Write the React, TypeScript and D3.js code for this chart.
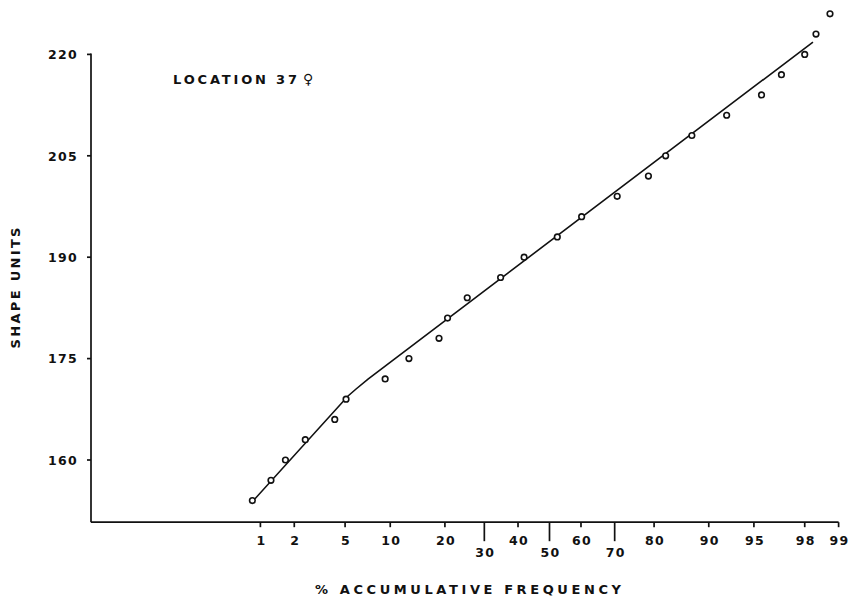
import React from "react";
import * as d3 from "d3";

// ---- data ----
const cumulativePct = [0.84, 1.25, 1.68, 2.47, 4.2, 5.08, 9.3, 12.9, 18.7, 20.6, 25.4, 34.7, 41.9, 52.5, 60.2, 70.7, 78.7, 82.5, 87.4, 92.3, 95.6, 96.9, 98.0, 98.4, 98.8];
const shapeUnits = [154, 157, 160, 163, 166, 169, 172, 175, 178, 181, 184, 187, 190, 193, 196, 199, 202, 205, 208, 211, 214, 217, 220, 223, 226];
// fitted (broken) line vertices: [pct, shape units]
const fitPct = [0.84, 5.25, 5.98, 7.21, 98.3];
const fitUnits = [153.83, 169.47, 170.5, 171.98, 221.83];
const xTickValues = [1, 2, 5, 10, 20, 30, 40, 50, 60, 70, 80, 90, 95, 98, 99];
const xTickLowered = [30, 50, 70];
const yTickValues = [160, 175, 190, 205, 220];

// inverse normal CDF (Acklam)
function probit(p: number): number {
  const a = [-3.969683028665376e1, 2.209460984245205e2, -2.759285104469687e2, 1.38357751867269e2, -3.066479806614716e1, 2.506628277459239];
  const b = [-5.447609879822406e1, 1.615858368580409e2, -1.556989798598866e2, 6.680131188771972e1, -1.328068155288572e1];
  const c = [-7.784894002430293e-3, -3.223964580411365e-1, -2.400758277161838, -2.549732539343734, 4.374664141464968, 2.938163982698783];
  const d = [7.784695709041462e-3, 3.224671290700398e-1, 2.445134137142996, 3.754408661907416];
  const pl = 0.02425;
  let q: number, r: number;
  if (p < pl) {
    q = Math.sqrt(-2 * Math.log(p));
    return (((((c[0] * q + c[1]) * q + c[2]) * q + c[3]) * q + c[4]) * q + c[5]) / ((((d[0] * q + d[1]) * q + d[2]) * q + d[3]) * q + 1);
  }
  if (p <= 1 - pl) {
    q = p - 0.5;
    r = q * q;
    return ((((((a[0] * r + a[1]) * r + a[2]) * r + a[3]) * r + a[4]) * r + a[5]) * q) / (((((b[0] * r + b[1]) * r + b[2]) * r + b[3]) * r + b[4]) * r + 1);
  }
  q = Math.sqrt(-2 * Math.log(1 - p));
  return -(((((c[0] * q + c[1]) * q + c[2]) * q + c[3]) * q + c[4]) * q + c[5]) / ((((d[0] * q + d[1]) * q + d[2]) * q + d[3]) * q + 1);
}

const W = 854;
const H = 605;
const zScale = d3.scaleLinear().domain([probit(0.01), probit(0.99)]).range([260.4, 838.6]);
const x = (pct: number) => zScale(probit(pct / 100));
const y = d3.scaleLinear().domain([160, 220]).range([460, 54.4]);

const axisLeft = 91;
const axisBottomValue = 150.8;
const font = "'DejaVu Sans', Verdana, sans-serif";
const ink = "#111";

export default function App() {
  const yBottom = y(axisBottomValue);
  const line = d3
    .line<number>()
    .x((i) => x(fitPct[i]))
    .y((i) => y(fitUnits[i]))
    .curve(d3.curveLinear);
  const fitIdx = fitPct.map((_, i) => i);

  return (
    <svg
      width={W}
      height={H}
      viewBox={`0 0 ${W} ${H}`}
      style={{ position: "absolute", left: 0, top: 0, background: "#fff" }}
    >
      <rect width={W} height={H} fill="#fff" />
      {/* y axis */}
      <line x1={axisLeft} x2={axisLeft} y1={y(220) - 1} y2={yBottom} stroke={ink} strokeWidth={1.7} />
      {yTickValues.map((v) => (
        <g key={v}>
          <line x1={axisLeft - 4} x2={axisLeft} y1={y(v)} y2={y(v)} stroke={ink} strokeWidth={1.7} />
          <text
            x={78}
            y={y(v) + 4.8}
            textAnchor="end"
            fontFamily={font}
            fontWeight="bold"
            fontSize={12.5}
            letterSpacing={1.3}
            fill={ink}
          >
            {v}
          </text>
        </g>
      ))}
      {/* x axis */}
      <line x1={axisLeft} x2={x(99)} y1={yBottom} y2={yBottom} stroke={ink} strokeWidth={1.7} />
      {xTickValues.map((p) => {
        const low = xTickLowered.includes(p);
        const xp = x(p);
        return (
          <g key={p}>
            <line x1={xp} x2={xp} y1={yBottom} y2={yBottom + (low ? 19 : 5)} stroke={ink} strokeWidth={1.7} />
            <text
              x={xp + 1}
              y={yBottom + (low ? 34.5 : 22.5)}
              textAnchor="middle"
              fontFamily={font}
              fontWeight="bold"
              fontSize={12.5}
              letterSpacing={1.3}
              fill={ink}
            >
              {p}
            </text>
          </g>
        );
      })}
      {/* fitted line */}
      <path d={line(fitIdx) || ""} fill="none" stroke={ink} strokeWidth={1.6} />
      {/* points */}
      {cumulativePct.map((p, i) => (
        <circle key={i} cx={x(p)} cy={y(shapeUnits[i])} r={2.8} fill="#fff" stroke={ink} strokeWidth={1.6} />
      ))}
      {/* labels */}
      <text
        x={173}
        y={83.5}
        fontFamily={font}
        fontWeight="bold"
        fontSize={13}
        textLength={124}
        lengthAdjust="spacing"
        fill={ink}
      >
        LOCATION 37
      </text>
      <text x={303} y={84} fontFamily={font} fontWeight="bold" fontSize={14} fill={ink}>
        ♀
      </text>
      <text
        transform={`translate(20,288) rotate(-90)`}
        textAnchor="middle"
        fontFamily={font}
        fontWeight="bold"
        fontSize={13}
        textLength={121}
        lengthAdjust="spacing"
        fill={ink}
      >
        SHAPE UNITS
      </text>
      <text
        x={315}
        y={593.5}
        fontFamily={font}
        fontWeight="bold"
        fontSize={13}
        textLength={306}
        lengthAdjust="spacing"
        fill={ink}
      >
        % ACCUMULATIVE FREQUENCY
      </text>
    </svg>
  );
}
